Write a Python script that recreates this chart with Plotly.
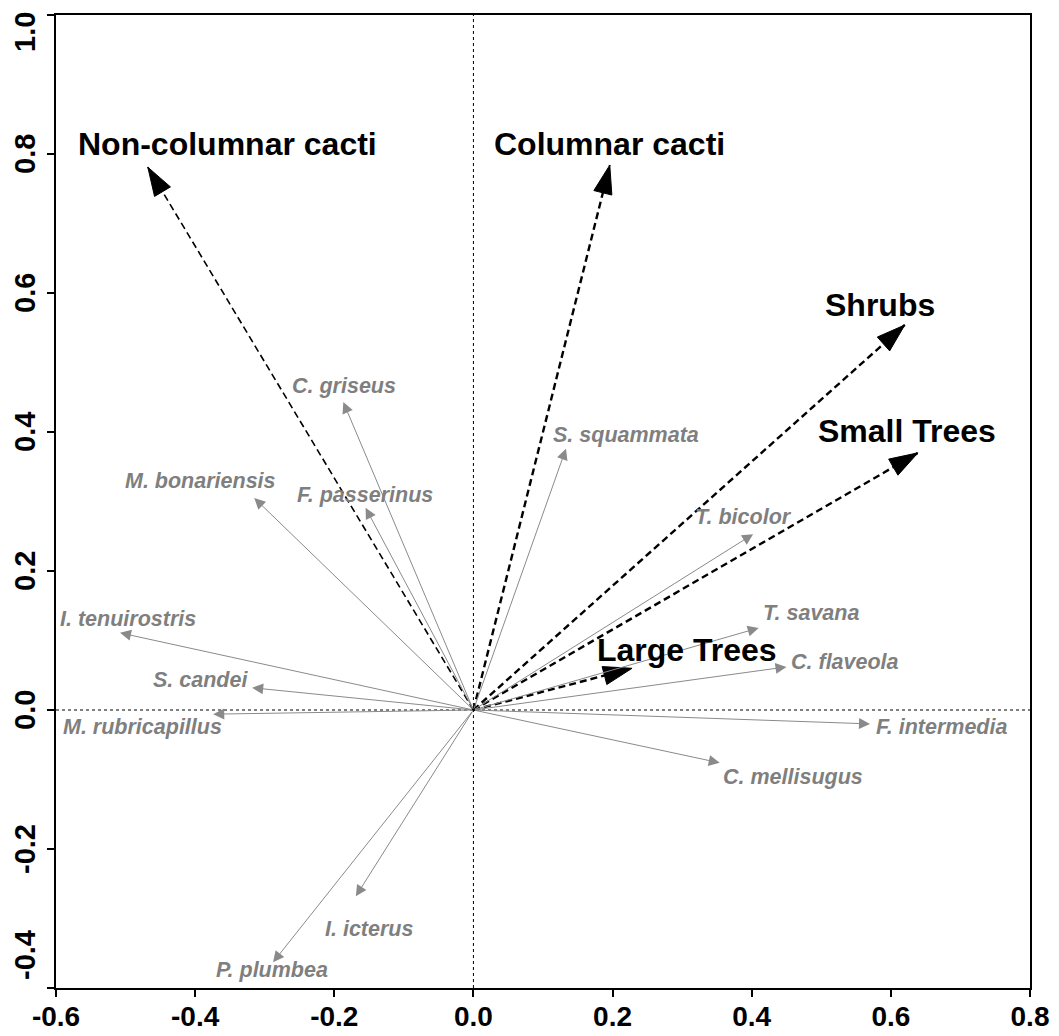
import plotly.graph_objects as go

# Habitat (environmental) vectors
env_names = ["Non-columnar cacti", "Columnar cacti", "Shrubs", "Small Trees", "Large Trees"]
env_x = [-0.468, 0.196, 0.620, 0.639, 0.228]
env_y = [0.781, 0.784, 0.554, 0.370, 0.060]
env_label_x = [-0.354, 0.196, 0.584, 0.623, 0.307]
env_label_y = [0.815, 0.815, 0.583, 0.402, 0.086]

# Species vectors
sp_names = ["C. griseus", "M. bonariensis", "F. passerinus", "I. tenuirostris", "S. candei",
            "M. rubricapillus", "P. plumbea", "I. icterus", "S. squammata", "T. bicolor",
            "T. savana", "C. flaveola", "F. intermedia", "C. mellisugus"]
sp_x = [-0.187, -0.315, -0.155, -0.508, -0.318, -0.374, -0.288, -0.169, 0.133, 0.402,
        0.410, 0.450, 0.570, 0.354]
sp_y = [0.443, 0.305, 0.291, 0.111, 0.032, -0.006, -0.363, -0.268, 0.376, 0.253,
        0.118, 0.062, -0.020, -0.076]
sp_label_x = [-0.186, -0.393, -0.156, -0.497, -0.393, -0.476, -0.290, -0.150, 0.219, 0.388,
              0.485, 0.534, 0.673, 0.459]
sp_label_y = [0.466, 0.330, 0.310, 0.131, 0.043, -0.025, -0.374, -0.315, 0.395, 0.278,
              0.139, 0.069, -0.025, -0.096]

# Axis ticks
x_ticks = [-0.6, -0.4, -0.2, 0.0, 0.2, 0.4, 0.6, 0.8]
y_ticks = [-0.4, -0.2, 0.0, 0.2, 0.4, 0.6, 0.8, 1.0]
x_range = [-0.6, 0.8]
y_range = [-0.4, 1.0]

FONT = "Liberation Sans, Arial, sans-serif"
GREY_LINE = "#8a8a8a"
GREY_TEXT = "#7f7f7f"

fig = go.Figure()

# Dashed habitat arrows with filled heads
line_widths = [1.6, 2.4, 2.4, 2.4, 2.4]
for i, name in enumerate(env_names):
    fig.add_trace(go.Scatter(
        x=[0, env_x[i]], y=[0, env_y[i]],
        mode="lines",
        line=dict(color="black", width=line_widths[i], dash="7px,4px"),
        hoverinfo="skip", showlegend=False,
    ))
    fig.add_trace(go.Scatter(
        x=[0, env_x[i]], y=[0, env_y[i]],
        mode="markers",
        marker=dict(symbol=["circle", "arrow"], size=[0, 30], color="black", opacity=1,
                    angleref="previous", line=dict(width=1, color="black")),
        hoverinfo="skip", showlegend=False,
    ))

annotations = []
# Species arrows
for i, name in enumerate(sp_names):
    annotations.append(dict(
        x=sp_x[i], y=sp_y[i], ax=0, ay=0, xref="x", yref="y", axref="x", ayref="y",
        text="", showarrow=True, arrowhead=2, arrowsize=2.2, arrowwidth=1,
        arrowcolor=GREY_LINE,
    ))
    annotations.append(dict(
        x=sp_label_x[i], y=sp_label_y[i], xref="x", yref="y", showarrow=False,
        text=name, font=dict(family=FONT, size=21.5, color=GREY_TEXT, weight="bold", style="italic"),
    ))

for i, name in enumerate(env_names):
    annotations.append(dict(
        x=env_label_x[i], y=env_label_y[i], xref="x", yref="y", showarrow=False,
        text=name, font=dict(family=FONT, size=32, color="black", weight="bold"),
    ))

# Rotated y tick labels
for v in y_ticks:
    shift = 0
    if v == y_ticks[-1]:
        shift = -17
    elif v == y_ticks[0]:
        shift = 33
    annotations.append(dict(
        x=0, y=v, xref="paper", yref="y", xanchor="center", yanchor="middle",
        xshift=-31, yshift=shift, textangle=-90, showarrow=False,
        text=f"{v:.1f}", font=dict(family=FONT, size=29, color="black", weight="bold"),
    ))

fig.update_layout(
    width=1059, height=1036,
    margin=dict(l=56, r=29, t=15, b=48, autoexpand=False),
    paper_bgcolor="white", plot_bgcolor="white",
    annotations=annotations,
    shapes=[
        dict(type="line", xref="x", yref="paper", x0=0, x1=0, y0=0, y1=1,
             line=dict(color="black", width=1, dash="dot")),
        dict(type="line", xref="paper", yref="y", x0=0, x1=1, y0=0, y1=0,
             line=dict(color="black", width=1, dash="dot")),
    ],
    xaxis=dict(range=x_range, tickvals=x_ticks, ticktext=[f"{v:.1f}" for v in x_ticks],
               showgrid=False, zeroline=False, showline=True, mirror=True, automargin=False,
               linecolor="black", linewidth=2, ticks="outside", ticklen=7, tickwidth=2,
               tickcolor="black", ticklabelstandoff=-5,
               tickfont=dict(family=FONT, size=28, color="black", weight="bold")),
    yaxis=dict(range=y_range, tickvals=y_ticks, showticklabels=False, automargin=False,
               showgrid=False, zeroline=False, showline=True, mirror=True,
               linecolor="black", linewidth=2, ticks="outside", ticklen=7, tickwidth=2,
               tickcolor="black"),
)

fig.write_html("out.html")
